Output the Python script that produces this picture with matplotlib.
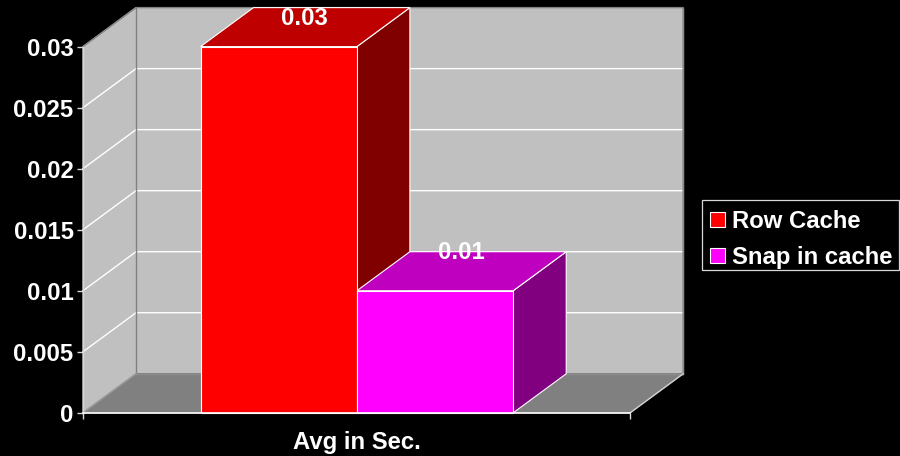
import matplotlib
matplotlib.use("Agg")
import matplotlib.pyplot as plt
from matplotlib.patches import Polygon, Rectangle

plt.rcParams["font.family"] = ["Liberation Sans", "DejaVu Sans"]
plt.rcParams["font.weight"] = "bold"

# Chart content
category = "Avg in Sec."
series_names = ["Row Cache", "Snap in cache"]
series_values = [0.03, 0.01]
value_labels = ["0.03", "0.01"]
y_ticks = [0, 0.005, 0.01, 0.015, 0.02, 0.025, 0.03]
y_tick_labels = ["0", "0.005", "0.01", "0.015", "0.02", "0.025", "0.03"]

# Colours
front_colors = ["#ff0000", "#ff00ff"]
top_colors = ["#bf0000", "#bf00bf"]
side_colors = ["#800000", "#800080"]
wall_color = "#c0c0c0"
floor_color = "#808080"
edge_gray = "#808080"
white = "#ffffff"

W, H = 900, 456
TEXT_SIZE = 17.2
fig = plt.figure(figsize=((W + 0.2) / 100, (H + 0.2) / 100), dpi=100, facecolor="black")

# Front plane of the pseudo-3D box, positioned in pixels
left, right, top, bottom = 83.0, 630.0, 46.8, 412.8
ax = fig.add_axes([left / W, 1 - bottom / H, (right - left) / W, (bottom - top) / H])
ax.set_xlim(0, 1)
ax.set_ylim(0, 0.03)
ax.patch.set_visible(False)
for s in ax.spines.values():
    s.set_visible(False)

# Depth of the box expressed in data units
dx = 53 / (right - left)
dy = 39 / (bottom - top) * 0.03
y_max = max(y_ticks)

# Value labels sit a different height above each bar's front edge
label_rise = [0.72 * dy, 0.975 * dy]


def poly(pts, fc, ec=None, lw=1.0, z=1):
    ax.add_patch(Polygon(pts, closed=True, facecolor=fc, edgecolor=ec or fc,
                         linewidth=lw, zorder=z, clip_on=False,
                         joinstyle="miter"))


# Walls and floor
poly([(0, 0), (dx, dy), (dx, y_max + dy), (0, y_max)], wall_color, z=1)
poly([(dx, dy), (1 + dx, dy), (1 + dx, y_max + dy), (dx, y_max + dy)], wall_color, z=1)
poly([(0, 0), (1, 0), (1 + dx, dy), (dx, dy)], floor_color, z=1)

# Gridlines run across the side wall and along the back wall
for v in y_ticks[1:-1]:
    ax.plot([0, dx, 1 + dx], [v, v + dy, v + dy], color=white, lw=1.0,
            zorder=2, clip_on=False, solid_joinstyle="miter")

# Wall outlines
ax.plot([0, dx, 1 + dx, 1 + dx], [y_max, y_max + dy, y_max + dy, dy],
        color=edge_gray, lw=1.0, zorder=3, clip_on=False)
ax.plot([dx, dx], [dy, y_max + dy], color=edge_gray, lw=1.0, zorder=3, clip_on=False)
ax.plot([dx, 1 + dx], [dy, dy], color="#8c8c8c", lw=1.0, zorder=3, clip_on=False)
ax.plot([0, 0], [0, y_max], color="#d8d8d8", lw=1.0, zorder=3, clip_on=False)
ax.plot([0, dx], [0, dy], color="#a0a0a0", lw=0.8, zorder=3, clip_on=False)
ax.plot([1, 1 + dx], [0, dy], color="#d0d0d0", lw=1.0, zorder=3, clip_on=False)

# Clustered bars drawn as three visible faces each
bar_start = (200.5 - left) / (right - left)
bar_width = 156.3 / (right - left)
for i, (val, label) in enumerate(zip(series_values, value_labels)):
    x0 = bar_start + i * bar_width
    x1 = x0 + bar_width
    z = 5
    poly([(x1, 0), (x1 + dx, dy), (x1 + dx, val + dy), (x1, val)], side_colors[i], white, 0.8, z)
    poly([(x0, val), (x1, val), (x1 + dx, val + dy), (x0 + dx, val + dy)], top_colors[i], white, 0.8, z)
    ax.bar(x0, val, width=bar_width, align="edge", color=front_colors[i],
           edgecolor=white, linewidth=0.8, zorder=z + 0.5, clip_on=False)
    ax.text(x0 + bar_width / 2 + dx * 0.49, val + label_rise[i], label, color=white,
            fontsize=TEXT_SIZE, ha="center", va="center", zorder=8, clip_on=False)

# Axis baseline, ticks and labels
ax.plot([0, 1], [0, 0], color=white, lw=1.2, zorder=7, clip_on=False)
ax.set_yticks(y_ticks)
ax.set_yticklabels(y_tick_labels, color=white, fontsize=TEXT_SIZE)
ax.set_xticks([0, 1])
ax.set_xticklabels([])
ax.tick_params(axis="both", color="#d8d8d8", width=1.0, length=4.3, pad=2.5)
ax.text(0.5, -0.00245, category, color=white, fontsize=TEXT_SIZE, ha="center",
        va="center", clip_on=False, transform=ax.transData)


# Legend box placed in figure pixels
def px_rect(x0, y0, x1, y1, fc, ec, lw):
    fig.add_artist(Rectangle((x0 / W, 1 - y1 / H), (x1 - x0) / W, (y1 - y0) / H,
                             transform=fig.transFigure, facecolor=fc,
                             edgecolor=ec, linewidth=lw))


px_rect(701.5, 200.5, 898.5, 270.5, "black", "#d8d8d8", 0.9)
for name, color, y in zip(series_names, front_colors, [220, 255.5]):
    px_rect(709.5, y - 7.5, 724.5, y + 7.5, color, white, 0.8)
    fig.text(732 / W, 1 - (y + 1.5) / H, name, color=white, fontsize=TEXT_SIZE,
             ha="left", va="center")

fig.savefig("out.png", dpi=100, facecolor="black")
